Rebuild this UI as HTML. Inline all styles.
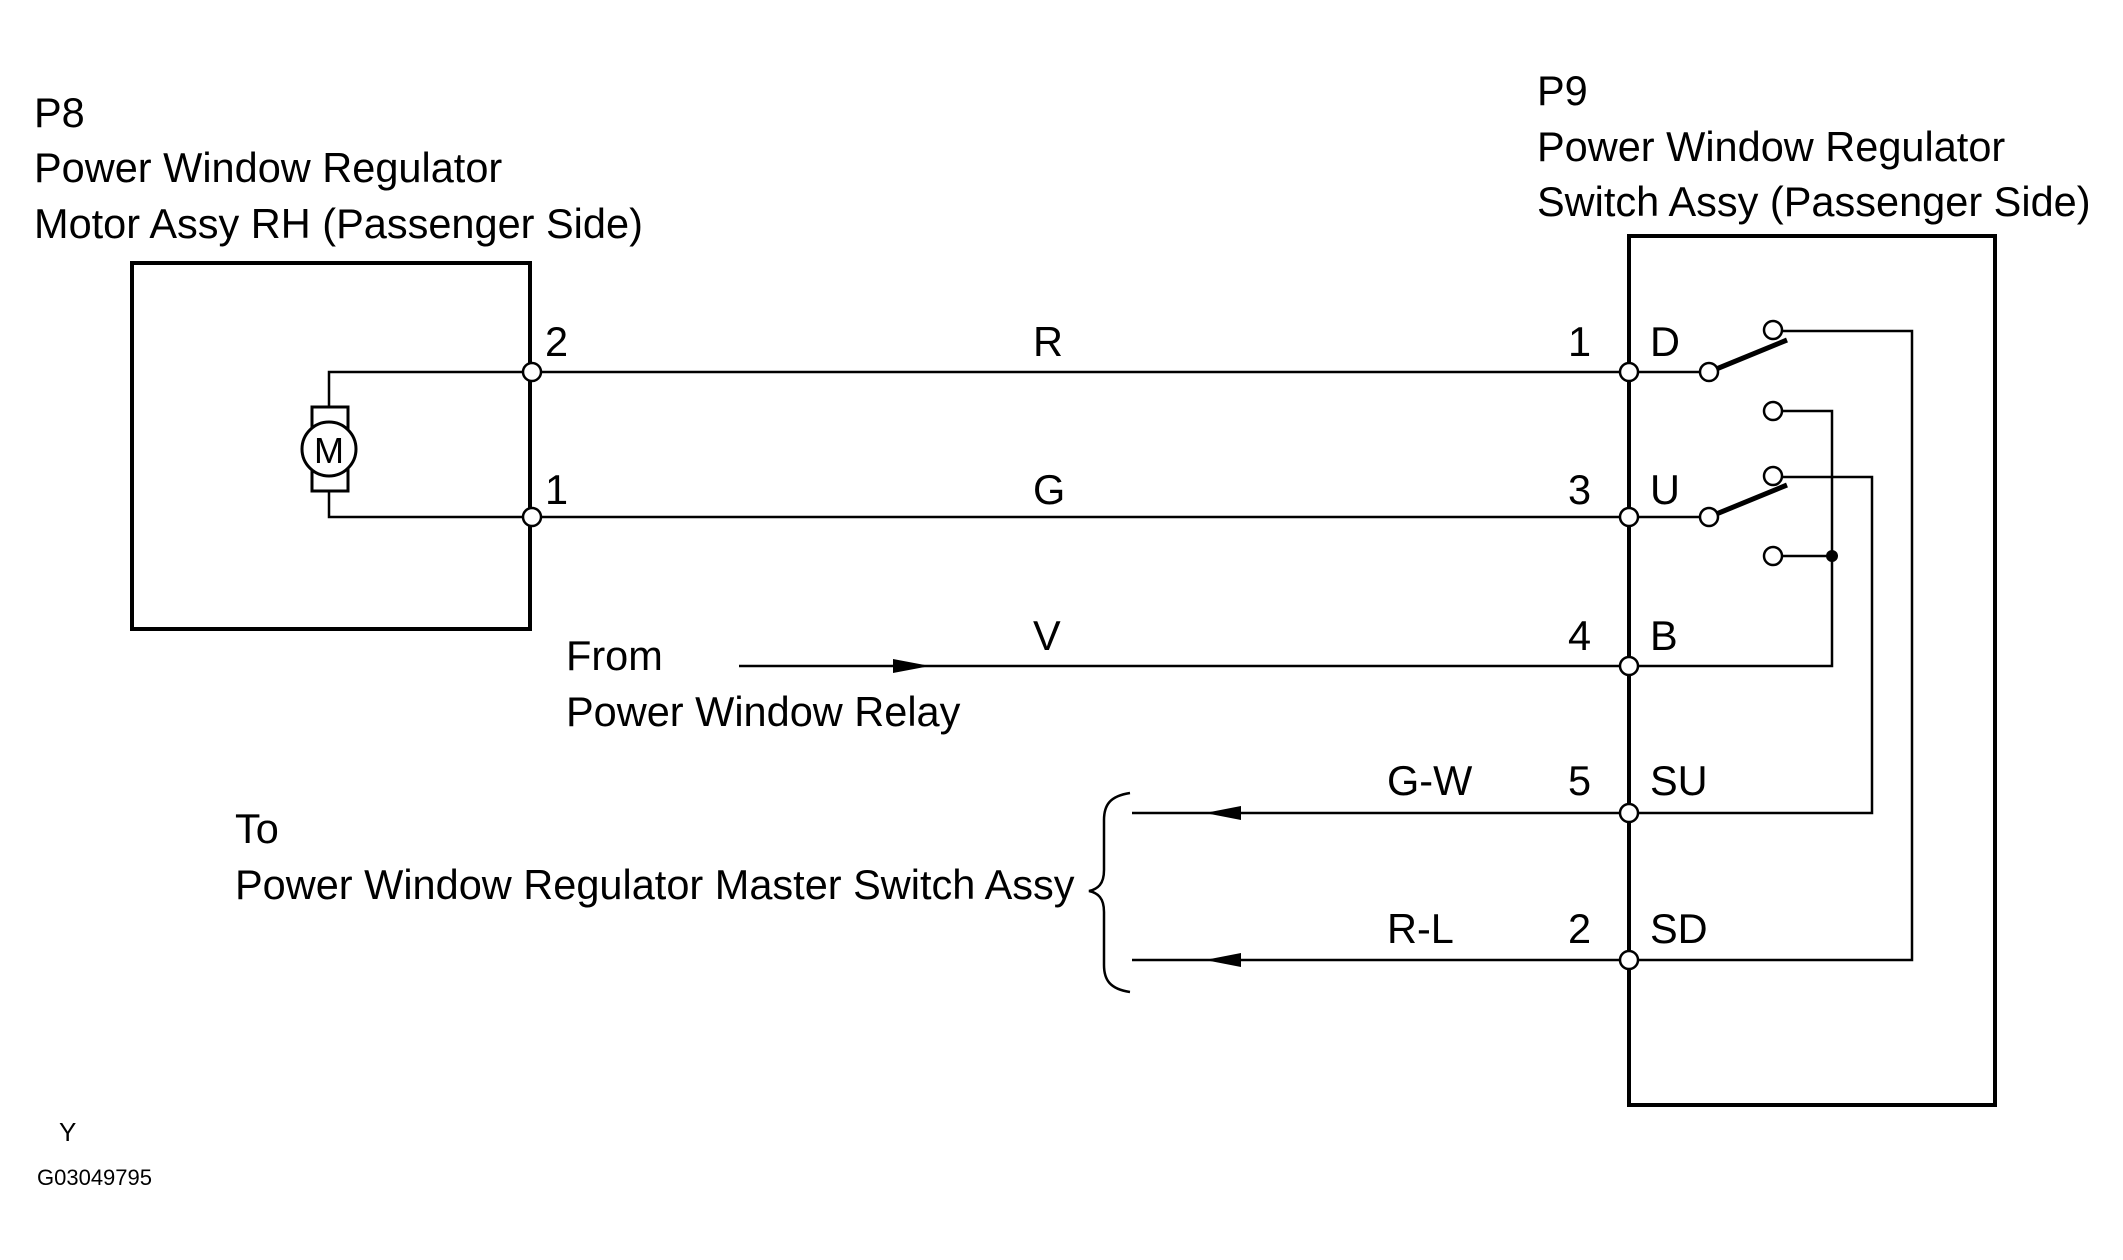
<!DOCTYPE html>
<html><head><style>
html,body{margin:0;padding:0;background:#fff;}
svg text{font-family:"Liberation Sans",sans-serif;fill:#000;}
</style></head><body>
<svg width="2123" height="1255" viewBox="0 0 2123 1255" xmlns="http://www.w3.org/2000/svg">
<g font-size="41.5">
<text x="34" y="127">P8</text>
<text x="34" y="182">Power Window Regulator</text>
<text x="34" y="238">Motor Assy RH (Passenger Side)</text>
<text x="1537" y="105">P9</text>
<text x="1537" y="161">Power Window Regulator</text>
<text x="1537" y="216">Switch Assy (Passenger Side)</text>
<text x="545" y="356">2</text>
<text x="545" y="504">1</text>
<text x="1033" y="356">R</text>
<text x="1033" y="504">G</text>
<text x="1033" y="650">V</text>
<text x="1387" y="795">G-W</text>
<text x="1387" y="943">R-L</text>
<text x="1568" y="356">1</text>
<text x="1568" y="504">3</text>
<text x="1568" y="650">4</text>
<text x="1568" y="795">5</text>
<text x="1568" y="943">2</text>
<text x="1650" y="356">D</text>
<text x="1650" y="504">U</text>
<text x="1650" y="650">B</text>
<text x="1650" y="795">SU</text>
<text x="1650" y="943">SD</text>
<text x="566" y="670">From</text>
<text x="566" y="726">Power Window Relay</text>
<text x="235" y="843">To</text>
<text x="235" y="899">Power Window Regulator Master Switch Assy</text>
</g>
<text x="59" y="1141" font-size="26">Y</text>
<text x="37" y="1185" font-size="22">G03049795</text>

<g fill="none" stroke="#000">
<rect x="132" y="263" width="398" height="366" stroke-width="4"/>
<rect x="1629" y="236" width="366" height="869" stroke-width="4"/>
<g stroke-width="2.5">
<polyline points="532,372 329,372 329,407"/>
<polyline points="532,517 329,517 329,491"/>
<line x1="532" y1="372" x2="1629" y2="372"/>
<line x1="532" y1="517" x2="1629" y2="517"/>
<line x1="739" y1="666" x2="1629" y2="666"/>
<line x1="1132" y1="813" x2="1629" y2="813"/>
<line x1="1132" y1="960" x2="1629" y2="960"/>
<line x1="1629" y1="372" x2="1709" y2="372"/>
<line x1="1629" y1="517" x2="1709" y2="517"/>
<polyline points="1782,331 1912,331 1912,960 1629,960"/>
<polyline points="1782,411 1832,411 1832,666 1629,666"/>
<polyline points="1782,477 1872,477 1872,813 1629,813"/>
<line x1="1782" y1="556" x2="1832" y2="556"/>
<path d="M1130,793 C1110,796 1104,805 1104,820 L1104,870 C1104,884 1098,889 1089,891 C1098,893 1104,898 1104,912 L1104,965 C1104,980 1110,989 1130,992"/>
</g>
<rect x="312" y="407" width="36" height="84" stroke-width="3" fill="#fff"/>
<circle cx="329" cy="449" r="27" stroke-width="3" fill="#fff"/>
<line x1="1709" y1="372" x2="1787" y2="340" stroke-width="5"/>
<line x1="1709" y1="517" x2="1787" y2="485" stroke-width="5"/>
<g stroke-width="2.5" fill="#fff">
<circle cx="532" cy="372" r="9"/>
<circle cx="532" cy="517" r="9"/>
<circle cx="1629" cy="372" r="9"/>
<circle cx="1629" cy="517" r="9"/>
<circle cx="1629" cy="666" r="9"/>
<circle cx="1629" cy="813" r="9"/>
<circle cx="1629" cy="960" r="9"/>
<circle cx="1709" cy="372" r="9"/>
<circle cx="1709" cy="517" r="9"/>
<circle cx="1773" cy="330" r="9"/>
<circle cx="1773" cy="411" r="9"/>
<circle cx="1773" cy="476" r="9"/>
<circle cx="1773" cy="556" r="9"/>
</g>
</g>
<text x="329" y="463" font-size="36" text-anchor="middle" font-family="Liberation Sans">M</text>
<circle cx="1832" cy="556" r="6" fill="#000"/>
<polygon points="893,659 930,666 893,673" fill="#000"/>
<polygon points="1241,806 1205,813 1241,820" fill="#000"/>
<polygon points="1241,953 1205,960 1241,967" fill="#000"/>
</svg>
</body></html>
